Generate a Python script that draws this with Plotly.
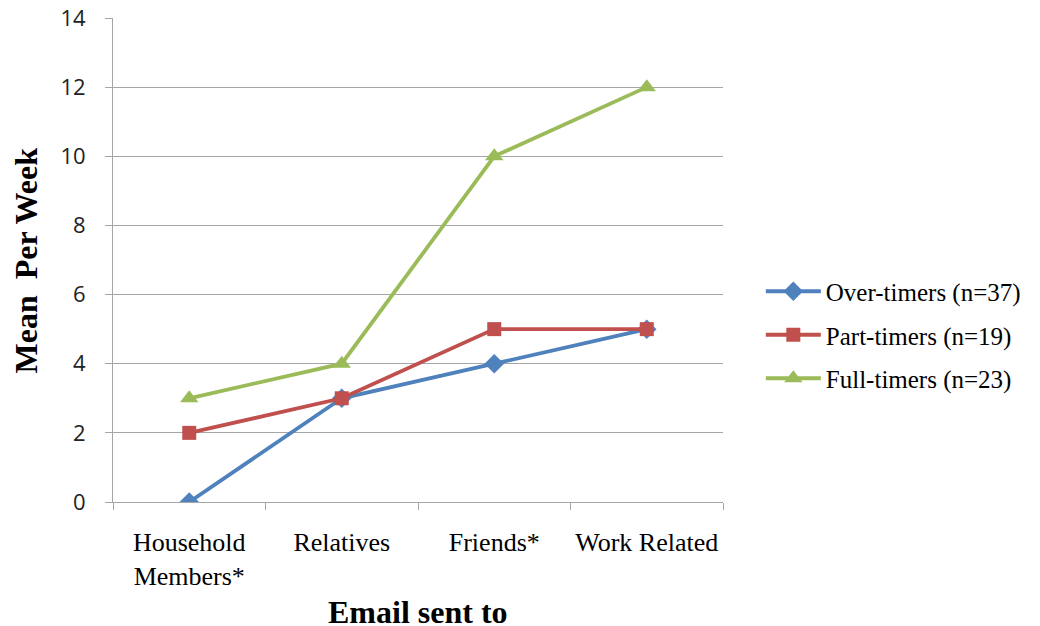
import plotly.graph_objects as go

# Mean number of emails sent per week, by recipient group
categories = ["Household<br>Members*", "Relatives", "Friends*", "Work Related"]
over_timers = [0, 3, 4, 5]
part_timers = [2, 3, 5, 5]
full_timers = [3, 4, 10, 12]
y_ticks = [0, 2, 4, 6, 8, 10, 12, 14]

series = [
    ("Over-timers (n=37)", over_timers, "#4F81BD", "diamond", 15),
    ("Part-timers (n=19)", part_timers, "#C0504D", "square", 14),
    ("Full-timers (n=23)", full_timers, "#9BBB59", "triangle-up", 16),
]

fig = go.Figure()
for i, (name, vals, color, symbol, size) in enumerate(series):
    fig.add_trace(go.Scatter(
        x=categories, y=vals, name=name, mode="lines+markers",
        line=dict(color=color, width=3.8),
        marker=dict(symbol=symbol, size=size, color=color),
        legendgroup=f"g{i}",
    ))

serif = "Liberation Serif, Times New Roman, serif"
sans = "Open Sans, Liberation Sans, sans-serif"

fig.update_layout(
    width=1040, height=626,
    margin=dict(l=113, r=317, t=18, b=124),
    paper_bgcolor="white", plot_bgcolor="white",
    showlegend=True,
    legend=dict(
        x=1.062, y=0.345, xanchor="left", yanchor="middle",
        font=dict(family=serif, size=25, color="black"),
        tracegroupgap=8, bgcolor="rgba(0,0,0,0)",
        itemwidth=55,
    ),
    xaxis=dict(
        type="category", range=[-0.5, len(categories) - 0.5], automargin=False,
        showgrid=False, showline=True, linecolor="#a6a6a6", linewidth=1,
        ticks="outside", ticklen=7, tickcolor="#a6a6a6", tickson="boundaries",
        tickfont=dict(family=serif, size=26, color="black"),
        ticklabelstandoff=17,
        zeroline=False,
    ),
    yaxis=dict(
        range=[0, 14], tickvals=y_ticks, automargin=False,
        showgrid=True, gridcolor="#a6a6a6", gridwidth=1,
        showline=True, linecolor="#a6a6a6", linewidth=1,
        ticks="outside", ticklen=7, tickcolor="#a6a6a6",
        tickfont=dict(family=sans, size=22, color="#222"),
        ticklabelstandoff=15,
        zeroline=False,
    ),
    annotations=[
        dict(text="<b>Mean  Per Week</b>", xref="paper", yref="paper",
             x=-0.142, y=0.5, xanchor="center", yanchor="middle",
             textangle=-90, showarrow=False,
             font=dict(family=serif, size=32, color="black")),
        dict(text="<b>Email sent to</b>", xref="paper", yref="paper",
             x=0.5, y=-0.186, xanchor="center", yanchor="top",
             showarrow=False,
             font=dict(family=serif, size=32, color="black")),
    ],
)

fig.write_html("out.html")
